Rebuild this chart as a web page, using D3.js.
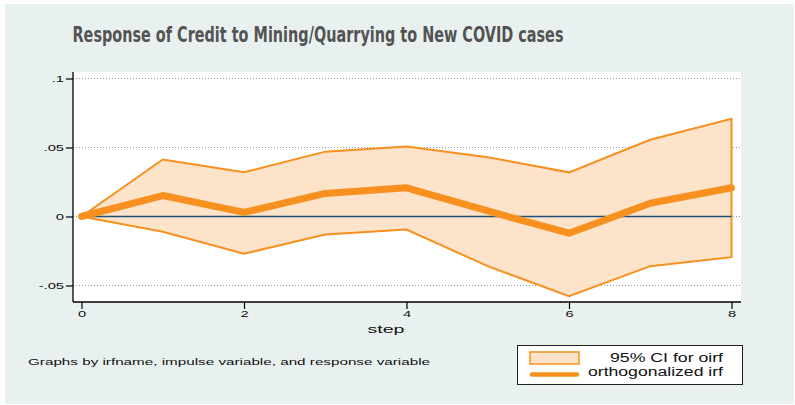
<!DOCTYPE html>
<html>
<head>
<meta charset="utf-8">
<script src="https://cdn.jsdelivr.net/npm/d3@7"></script>
<style>
  body { margin: 0; background: #fff; }
  svg { display: block; }
</style>
</head>
<body>
<svg id="chart"></svg>
<script>
const steps = [0, 1, 2, 3, 4, 5, 6, 7, 8]
const irf = [0, 0.0152, 0.003, 0.0167, 0.0208, 0.004, -0.0121, 0.0096, 0.0208]
const ciUpper = [0, 0.0413, 0.032, 0.047, 0.0507, 0.043, 0.032, 0.0556, 0.0708]
const ciLower = [0, -0.011, -0.027, -0.013, -0.0094, -0.036, -0.0578, -0.036, -0.0295]
const yTicks = [-0.05, 0, 0.05, 0.1]
const yTickLabels = ['-.05', '0', '.05', '.1']
const xTicks = [0, 2, 4, 6, 8]

const width = 795, height = 405
const plot = { left: 73, right: 741, top: 72, bottom: 302 }
const orange = '#F7901E', fill = '#FDE3C9'
const sans = 'Liberation Sans, Arial, sans-serif'
const stretch = 1.55   // the reference is drawn wide

const svg = d3.select('#chart').attr('width', width).attr('height', height)

svg.append('rect').attr('x', 5).attr('y', 4).attr('width', 789).attr('height', 400).attr('fill', '#E9F1F0')
svg.append('rect')
  .attr('x', plot.left).attr('y', plot.top)
  .attr('width', plot.right - plot.left).attr('height', plot.bottom - plot.top)
  .attr('fill', '#fff')

const x = d3.scaleLinear().domain([0, 8]).range([81.5, 731.5])
const y = d3.scaleLinear().domain([-0.05, 0.1]).range([285.5, 78.5])

// gridlines
svg.append('g').selectAll('line').data(yTicks).enter().append('line')
  .attr('x1', plot.left).attr('x2', plot.right)
  .attr('y1', d => y(d)).attr('y2', d => y(d))
  .attr('stroke', '#9a9a9a').attr('stroke-width', 1).attr('stroke-dasharray', '1,2')

// CI band
const rows = steps.map((s, i) => ({ s, lo: ciLower[i], hi: ciUpper[i], v: irf[i] }))
svg.append('path').datum(rows)
  .attr('d', d3.area().x(d => x(d.s)).y0(d => y(d.lo)).y1(d => y(d.hi)))
  .attr('fill', fill).attr('stroke', 'none')
svg.append('path').datum(rows.map(d => [d.s, d.hi]).concat(rows.slice().reverse().map(d => [d.s, d.lo])))
  .attr('d', d3.line().x(d => x(d[0])).y(d => y(d[1])))
  .attr('fill', 'none').attr('stroke', orange).attr('stroke-width', 2)

// zero line
svg.append('line')
  .attr('x1', x(0)).attr('x2', x(8)).attr('y1', y(0)).attr('y2', y(0))
  .attr('stroke', '#1F4E79').attr('stroke-width', 1.6)

// irf line
svg.append('path').datum(rows)
  .attr('d', d3.line().x(d => x(d.s)).y(d => y(d.v)))
  .attr('fill', 'none').attr('stroke', orange).attr('stroke-width', 7)
  .attr('stroke-linecap', 'round').attr('stroke-linejoin', 'round')

// axes
const yAxis = svg.append('g').attr('transform', `translate(${plot.left},0)`)
  .call(d3.axisLeft(y).tickValues(yTicks).tickFormat((d, i) => yTickLabels[i]).tickSize(7))
yAxis.select('.domain').attr('d', `M0,${plot.top}V${plot.bottom}`).attr('stroke', '#000').attr('stroke-width', 1.3)
yAxis.selectAll('.tick line').attr('stroke-width', 1.2)
yAxis.selectAll('text')
  .attr('font-family', sans).attr('font-size', 9.5).attr('fill', '#111')
  .attr('x', 0).attr('transform', `translate(-9,0) scale(${stretch},1)`)

const xAxis = svg.append('g').attr('transform', `translate(0,${plot.bottom})`)
  .call(d3.axisBottom(x).tickValues(xTicks).tickFormat(d3.format('d')).tickSize(7))
xAxis.select('.domain').attr('d', `M${plot.left},0H${plot.right}`).attr('stroke', '#000').attr('stroke-width', 1.3)
xAxis.selectAll('.tick line').attr('stroke-width', 1.2)
xAxis.selectAll('text')
  .attr('font-family', sans).attr('font-size', 9.5).attr('fill', '#111')
  .attr('y', 0).attr('dy', 0).attr('transform', `translate(0,15) scale(${stretch},1)`)

svg.append('text').text('step')
  .attr('x', 386).attr('y', 333).attr('text-anchor', 'middle')
  .attr('font-family', sans).attr('font-size', 11.5).attr('fill', '#111')
  .attr('textLength', 37).attr('lengthAdjust', 'spacingAndGlyphs')

// title
svg.append('text').text('Response of Credit to Mining/Quarrying to New COVID cases')
  .attr('x', 72.5).attr('y', 42)
  .attr('font-family', 'DejaVu Sans Condensed, Liberation Sans Narrow, sans-serif')
  .attr('font-weight', 'bold').attr('font-size', 21.5).attr('fill', '#535353')
  .attr('textLength', 491).attr('lengthAdjust', 'spacingAndGlyphs')

// note
svg.append('text').text('Graphs by irfname, impulse variable, and response variable')
  .attr('x', 28).attr('y', 365)
  .attr('font-family', sans).attr('font-size', 9.5).attr('fill', '#111')
  .attr('textLength', 402).attr('lengthAdjust', 'spacingAndGlyphs')

// legend
const lg = svg.append('g')
lg.append('rect').attr('x', 517.5).attr('y', 345.5).attr('width', 225).attr('height', 39)
  .attr('fill', '#fff').attr('stroke', '#222').attr('stroke-width', 1)
lg.append('rect').attr('x', 530).attr('y', 352).attr('width', 49).attr('height', 12)
  .attr('fill', fill).attr('stroke', orange).attr('stroke-width', 1.5)
lg.append('line').attr('x1', 532).attr('x2', 577).attr('y1', 374.5).attr('y2', 374.5)
  .attr('stroke', orange).attr('stroke-width', 4.5).attr('stroke-linecap', 'round')
const legendLabels = ['95% CI for oirf', 'orthogonalized irf']
const legendWidths = [113, 135]
lg.selectAll('text.lab').data(legendLabels).enter().append('text')
  .attr('x', 723).attr('y', (d, i) => 362 + i * 14).attr('text-anchor', 'end')
  .attr('font-family', sans).attr('font-size', 12).attr('fill', '#111')
  .attr('textLength', (d, i) => legendWidths[i]).attr('lengthAdjust', 'spacingAndGlyphs')
  .text(d => d)
</script>
</body>
</html>
